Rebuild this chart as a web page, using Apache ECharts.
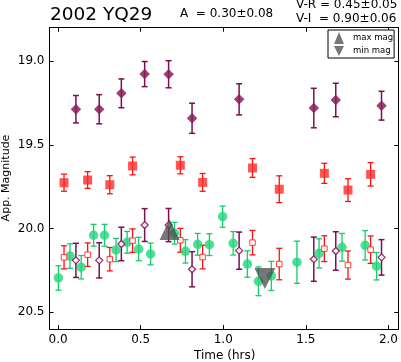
<!DOCTYPE html>
<html><head><meta charset="utf-8">
<script src="https://cdn.jsdelivr.net/npm/echarts@6/dist/echarts.min.js"></script>
<style>html,body{margin:0;padding:0;background:#fff}#c{width:401px;height:362px}</style>
</head><body><div id="c"></div>
<script>
// Data
const vTimes = [0.108, 0.249, 0.383, 0.524, 0.669, 0.811, 1.096, 1.548, 1.681, 1.958];
const vMag = [19.287, 19.287, 19.192, 19.077, 19.078, 19.341, 19.228, 19.280, 19.232, 19.266];
const vErr = [0.082, 0.087, 0.086, 0.075, 0.081, 0.090, 0.093, 0.118, 0.100, 0.086];

const rTimes = [0.036, 0.179, 0.313, 0.451, 0.740, 0.875, 1.177, 1.339, 1.612, 1.755, 1.892];
const rMag = [19.726, 19.710, 19.738, 19.626, 19.622, 19.724, 19.638, 19.765, 19.670, 19.770, 19.676];
const rErr = [0.051, 0.050, 0.054, 0.053, 0.051, 0.053, 0.056, 0.080, 0.060, 0.068, 0.070];

const gTimes = [0.002, 0.072, 0.140, 0.215, 0.281, 0.351, 0.418, 0.488, 0.560, 0.705, 0.771, 0.845, 0.916, 0.996, 1.060, 1.146, 1.213, 1.291, 1.446, 1.580, 1.719, 1.859, 1.928];
const gMag = [20.295, 20.164, 20.231, 20.040, 20.040, 20.128, 20.082, 20.122, 20.152, 20.028, 20.136, 20.094, 20.096, 19.929, 20.088, 20.212, 20.315, 20.283, 20.201, 20.148, 20.112, 20.100, 20.225];
const gErr = [0.073, 0.073, 0.070, 0.065, 0.065, 0.069, 0.065, 0.070, 0.065, 0.065, 0.070, 0.065, 0.065, 0.063, 0.070, 0.079, 0.086, 0.087, 0.126, 0.087, 0.083, 0.088, 0.082];

const rOpenMag = [20.172, 20.156, 20.183, 20.072, 20.070, 20.170, 20.084, 20.212, 20.120, 20.218, 20.126];
const rOpenErr = [0.069, 0.070, 0.070, 0.070, 0.071, 0.071, 0.073, 0.094, 0.077, 0.084, 0.082];

const vOpenMag = [20.190, 20.190, 20.092, 19.979, 19.979, 20.243, 20.132, 20.183, 20.134, 20.172];
const vOpenErr = [0.102, 0.105, 0.100, 0.098, 0.099, 0.105, 0.111, 0.132, 0.115, 0.106];

const maxMagPoint = [0.675, 20.005];
const minMagPoint = [1.252, 20.298];

const titleText = '2002 YQ29';
const ampText = 'A  = 0.30\u00b10.08';
const vrText = 'V-R = 0.45\u00b10.05';
const viText = 'V-I  = 0.90\u00b10.06';

const FONT = 'DejaVu Sans';

function pts(t, m, e) { return t.map((x, i) => [x, m[i], e[i]]); }

function errSeries(data, color, width) {
  return {
    type: 'custom',
    data: data,
    z: 2,
    renderItem: function (params, api) {
      const x = api.value(0), y = api.value(1), e = api.value(2);
      const top = api.coord([x, y - e]);
      const bot = api.coord([x, y + e]);
      const cw = 3;
      const st = { stroke: color, lineWidth: width };
      return {
        type: 'group',
        children: [
          { type: 'line', shape: { x1: top[0], y1: top[1], x2: bot[0], y2: bot[1] }, style: st },
          { type: 'line', shape: { x1: top[0] - cw, y1: top[1], x2: top[0] + cw, y2: top[1] }, style: st },
          { type: 'line', shape: { x1: bot[0] - cw, y1: bot[1], x2: bot[0] + cw, y2: bot[1] }, style: st }
        ]
      };
    }
  };
}

const PURPLE = '#8a1d5e', PURPLE_L = '#7d0f4f';
const RED = '#ff2a2a', RED_L = '#ff1010';
const GREEN = '#22d67c', GREEN_L = '#14cc6a';

const chart = echarts.init(document.getElementById('c'), null, { renderer: 'canvas' });

const axisCommon = {
  type: 'value',
  splitNumber: 4,
  axisLine: { show: true, onZero: false, lineStyle: { color: '#000', width: 1 } },
  axisTick: { show: true, inside: true, length: 4, lineStyle: { color: '#000', width: 1 } },
  splitLine: { show: false }
};

const option = {
  animation: false,
  backgroundColor: '#fff',
  textStyle: { fontFamily: FONT },
  grid: { left: 49.5, right: 1, top: 27.7, bottom: 33 },
  xAxis: [
    Object.assign({}, axisCommon, {
      min: -0.052, max: 2.06, position: 'bottom',
      axisLabel: { show: true, margin: 5, fontSize: 12, color: '#000', fontFamily: FONT,
        showMinLabel: false, showMaxLabel: false, formatter: v => v.toFixed(1) }
    }),
    Object.assign({}, axisCommon, {
      min: -0.052, max: 2.06, position: 'top',
      axisLabel: { show: false }
    })
  ],
  yAxis: [
    Object.assign({}, axisCommon, {
      min: 18.8, max: 20.6, inverse: true, position: 'left',
      axisLabel: { show: true, margin: 5, fontSize: 12, color: '#000', fontFamily: FONT,
        showMinLabel: false, showMaxLabel: false, formatter: v => v.toFixed(1) }
    }),
    Object.assign({}, axisCommon, {
      min: 18.8, max: 20.6, inverse: true, position: 'right',
      axisLabel: { show: false }
    })
  ],
  legend: {
    orient: 'vertical',
    left: 328, top: 30,
    padding: [2, 1, 2, 6],
    itemWidth: 10, itemHeight: 12, itemGap: 2,
    backgroundColor: '#fff',
    borderColor: '#000', borderWidth: 1, borderRadius: 0,
    textStyle: { fontSize: 8.5, color: '#000', fontFamily: FONT, padding: [0, 0, 0, 4] },
    data: [
      { name: 'max mag', icon: 'triangle' },
      { name: 'min mag', icon: 'path://M0,0L2,0L1,2Z' }
    ],
    z: 20
  },
  graphic: [
    { type: 'text', x: 50, y: 15.5, style: { text: titleText, font: '18.5px "DejaVu Sans"', fill: '#000', textAlign: 'left', textVerticalAlign: 'middle' } },
    { type: 'text', x: 180, y: 13.5, style: { text: ampText, font: '12px "DejaVu Sans"', fill: '#000', textAlign: 'left', textVerticalAlign: 'middle' } },
    { type: 'text', x: 296, y: 4.5, style: { text: vrText, font: '12px "DejaVu Sans"', fill: '#000', textAlign: 'left', textVerticalAlign: 'middle' } },
    { type: 'text', x: 296, y: 18.5, style: { text: viText, font: '12px "DejaVu Sans"', fill: '#000', textAlign: 'left', textVerticalAlign: 'middle' } },
    { type: 'text', x: 224.7, y: 355.5, style: { text: 'Time (hrs)', font: '12px "DejaVu Sans"', fill: '#000', textAlign: 'center', textVerticalAlign: 'middle' } },
    { type: 'text', x: 6.5, y: 178, rotation: Math.PI / 2, style: { text: 'App. Magnitude', font: '11px "DejaVu Sans"', fill: '#000', textAlign: 'center', textVerticalAlign: 'middle' } }
  ],
  series: [
    errSeries(pts(vTimes, vMag, vErr), PURPLE_L, 1.5),
    { name: 'V', type: 'scatter', symbol: 'diamond', symbolSize: 10.5, z: 3,
      itemStyle: { color: PURPLE, opacity: 0.85 }, data: vTimes.map((t, i) => [t, vMag[i]]) },
    errSeries(pts(rTimes, rMag, rErr), RED_L, 1.3),
    { name: 'R', type: 'scatter', symbol: 'rect', symbolSize: 9, z: 3,
      itemStyle: { color: RED, opacity: 0.8 }, data: rTimes.map((t, i) => [t, rMag[i]]) },
    errSeries(pts(gTimes, gMag, gErr), GREEN_L, 1.3),
    { name: 'G', type: 'scatter', symbol: 'circle', symbolSize: 9.5, z: 3,
      itemStyle: { color: GREEN, opacity: 0.8 }, data: gTimes.map((t, i) => [t, gMag[i]]) },
    errSeries(pts(rTimes, rOpenMag, rOpenErr), RED_L, 1.3),
    { name: 'Ro', type: 'scatter', symbol: 'rect', symbolSize: 5.5, z: 4,
      itemStyle: { color: '#fff', borderColor: RED, borderWidth: 1, opacity: 0.9 }, data: rTimes.map((t, i) => [t, rOpenMag[i]]) },
    errSeries(pts(vTimes, vOpenMag, vOpenErr), PURPLE_L, 1.5),
    { name: 'Vo', type: 'scatter', symbol: 'diamond', symbolSize: 7, z: 4,
      itemStyle: { color: '#fff', borderColor: PURPLE, borderWidth: 1.3, opacity: 0.9 }, data: vTimes.map((t, i) => [t, vOpenMag[i]]) },
    { name: 'max mag', type: 'scatter', symbol: 'triangle', symbolSize: [20, 21], z: 6,
      itemStyle: { color: '#4a4a4a', opacity: 0.75 }, data: [maxMagPoint] },
    { name: 'min mag', type: 'scatter', symbol: 'path://M0,0L2,0L1,2Z', symbolSize: [21, 21], z: 6,
      itemStyle: { color: '#4a4a4a', opacity: 0.75 }, data: [minMagPoint] }
  ]
};
chart.setOption(option);
</script>
</body></html>
